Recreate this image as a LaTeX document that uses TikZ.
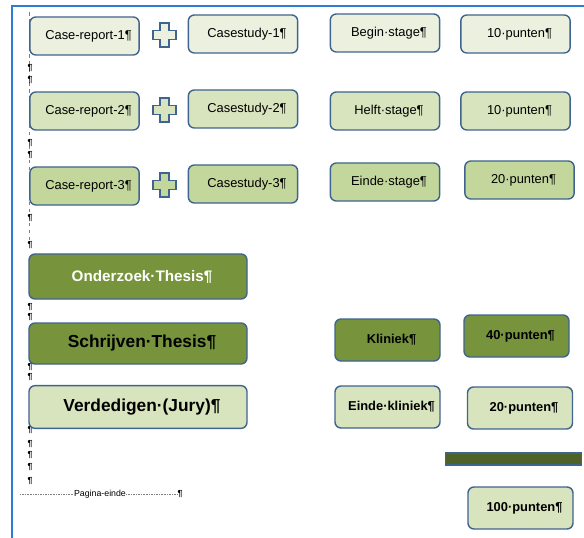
\documentclass[tikz,border=0pt]{standalone}
\usepackage{fontspec}
\setmainfont{Liberation Sans}
\definecolor{rim}{HTML}{3F648F}
\definecolor{paleA}{HTML}{EBF1DE}
\definecolor{paleB}{HTML}{D7E4BD}
\definecolor{paleC}{HTML}{C3D69B}
\definecolor{olive}{HTML}{77933C}
\definecolor{darkolive}{HTML}{4F6228}
\definecolor{frameblue}{HTML}{2E7BD6}
\begin{document}
\begin{tikzpicture}[x=0.03cm,y=-0.03cm,
  box/.style={draw=rim,line width=1.2pt,rounded corners=0.18cm,inner sep=0pt,
    minimum width=3.28cm,minimum height=1.14cm,font=\fontsize{11}{13}\selectfont,
    execute at begin node={\hspace{0.24cm}}},
  widebox/.style={box,minimum width=6.54cm,minimum height=1.28cm,font=\bfseries\fontsize{14.8}{17}\selectfont},
  smallbox/.style={box,minimum width=3.15cm,minimum height=1.26cm,font=\bfseries\fontsize{11}{13}\selectfont},
  pil/.style={inner sep=0pt,font=\bfseries\fontsize{7.5}{8}\selectfont}]
\useasboundingbox (0,0) rectangle (584,538);
% frame of the page
\draw[frameblue,line width=1.2pt] (12,538) -- (12,6) -- (584,6);
\draw[gray,dashed,line width=0.8pt] (29.5,12) -- (29.5,240);
\foreach \py in {68,80,143,155,218,245,307,317,367,377,430,444,455,467,481}
  \node[pil] at (30,\py) {¶};
% stage rows
\node[box,fill=paleA] (cr1) at (84.5,36) {Case-report-1¶};
\node[box,fill=paleA] (cs1) at (243,34) {Casestudy-1¶};
\node[box,fill=paleA] (bs) at (385,33) {Begin·stage¶};
\node[box,fill=paleA] (p1) at (515.5,34) {10·punten¶};
\node[box,fill=paleB] (cr2) at (84.5,111) {Case-report-2¶};
\node[box,fill=paleB] (cs2) at (243,109) {Casestudy-2¶};
\node[box,fill=paleB] (hs) at (385,111) {Helft·stage¶};
\node[box,fill=paleB] (p2) at (515.5,111) {10·punten¶};
\node[box,fill=paleC] (cr3) at (84.5,186) {Case-report-3¶};
\node[box,fill=paleC] (cs3) at (243,184) {Casestudy-3¶};
\node[box,fill=paleC] (es) at (385,182) {Einde·stage¶};
\node[box,fill=paleC] (p3) at (519.5,180) {20·punten¶};
% plus signs
\foreach \py/\pc in {35/paleA,110/paleB,185/paleC}
  \draw[rim,line width=1.3pt,fill=\pc] (160,\py-12) -- (169,\py-12) -- (169,\py-4.5)
    -- (176,\py-4.5) -- (176,\py+4.5) -- (169,\py+4.5) -- (169,\py+12) -- (160,\py+12)
    -- (160,\py+4.5) -- (153,\py+4.5) -- (153,\py-4.5) -- (160,\py-4.5) -- cycle;
% thesis and kliniek
\node[widebox,fill=olive,text=white,font=\bfseries\fontsize{13}{15}\selectfont,minimum height=1.35cm] (ot) at (138,276.5) {Onderzoek·Thesis¶};
\node[widebox,fill=olive,minimum height=1.23cm] (st) at (138,343.5) {Schrijven·Thesis¶};
\node[widebox,fill=paleB] (vj) at (138,407) {Verdedigen·(Jury)¶};
\node[smallbox,fill=olive] (kl) at (387.5,340) {Kliniek¶};
\node[smallbox,fill=olive] (p4) at (516.5,336) {40·punten¶};
\node[smallbox,fill=paleB] (ek) at (387.5,407) {Einde·kliniek¶};
\node[smallbox,fill=paleB] (p5) at (520,408) {20·punten¶};
\node[draw=rim,line width=1pt,fill=darkolive,inner sep=0pt,minimum width=4.1cm,minimum height=0.36cm] (bar) at (513.5,459) {};
\node[smallbox,fill=paleB] (p6) at (520.5,508) {100·punten¶};
% page break
\node[inner sep=0pt,font=\fontsize{7.5}{8}\selectfont] (pb) at (100,494) {Pagina-einde};
\node[pil] (pbend) at (180,494) {¶};
\draw[gray,densely dotted] (20,494) -- (pb.west);
\draw[gray,densely dotted] (pb.east) -- (pbend.west);
\end{tikzpicture}
\end{document}
